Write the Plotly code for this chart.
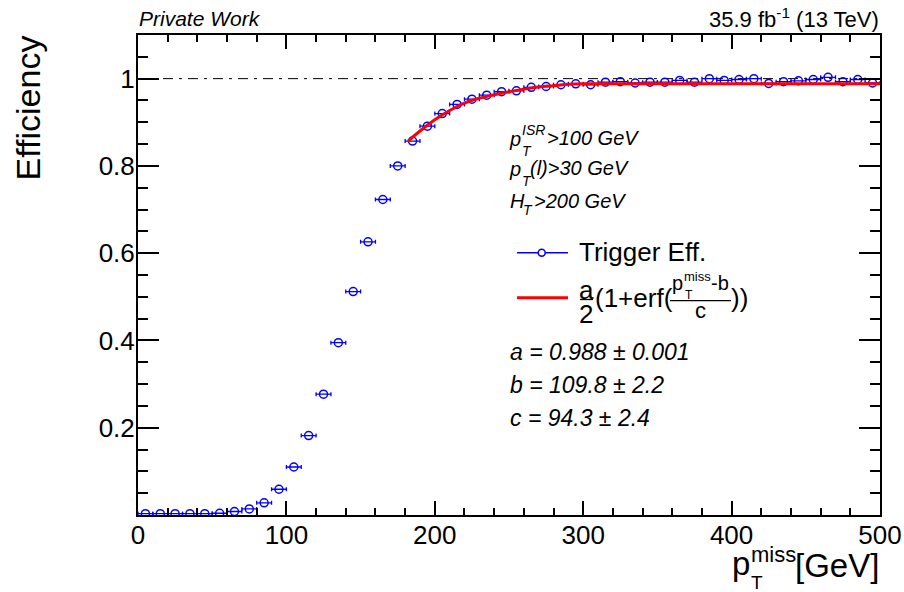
import plotly.graph_objects as go

# ---------------- data ----------------
met_bins = [5, 15, 25, 35, 45, 55, 65, 75, 85, 95,
            105, 115, 125, 135, 145, 155, 165, 175, 185, 195,
            205, 215, 225, 235, 245, 255, 265, 275, 285, 295,
            305, 315, 325, 335, 345, 355, 365, 375, 385, 395,
            405, 415, 425, 435, 445, 455, 465, 475, 485, 495]
efficiency = [0.003, 0.003, 0.003, 0.003, 0.003, 0.004, 0.008, 0.014, 0.028, 0.059,
              0.110, 0.182, 0.277, 0.395, 0.512, 0.626, 0.723, 0.800, 0.857, 0.891,
              0.920, 0.941, 0.953, 0.962, 0.970, 0.972, 0.980, 0.982, 0.986, 0.988,
              0.986, 0.992, 0.993, 0.990, 0.992, 0.992, 0.996, 0.992, 1.000, 0.996,
              0.998, 1.000, 0.989, 0.993, 0.995, 0.998, 1.003, 0.993, 0.998, 0.990]
bin_half_width = 5

fit_x = [182, 190, 200, 210, 220, 230, 240, 250, 260, 270, 280, 290, 300, 320, 350, 400, 450, 500]
fit_y = [0.857, 0.880, 0.906, 0.927, 0.944, 0.955, 0.963, 0.970, 0.976, 0.981,
         0.984, 0.987, 0.988, 0.988, 0.988, 0.988, 0.988, 0.988]

ref_x = [0, 500]
ref_y = [1.0, 1.0]

y_tickvals = [0.2, 0.4, 0.6, 0.8, 1.0]
y_ticktext = ["0.2", "0.4", "0.6", "0.8", "1"]
x_tickvals = [0, 100, 200, 300, 400, 500]

# ---------------- layout geometry (pixels) ----------------
W, H = 904, 592
L, R, T, B = 138, 880, 35, 515
FONT = "Liberation Sans"
BLUE = "rgb(0,0,255)"
RED = "rgb(255,0,0)"


def px(x):
    return (x - L) / (R - L)


def py(y):
    return (B - y) / (B - T)


fig = go.Figure()

fig.add_trace(go.Scatter(x=ref_x, y=ref_y, mode="lines",
                         line=dict(color="black", width=1, dash="10px,6px,3px,6px"),
                         hoverinfo="skip"))

fig.add_trace(go.Scatter(
    x=met_bins, y=efficiency, mode="markers",
    marker=dict(symbol="circle-open", size=8, color=BLUE, line=dict(width=1.5, color=BLUE)),
    error_x=dict(type="constant", value=bin_half_width, width=2, thickness=1.3, color=BLUE),
))

fig.add_trace(go.Scatter(x=fit_x, y=fit_y, mode="lines", line_shape="spline",
                         line=dict(color=RED, width=3)))

annotations = []
shapes = []


def txt(text, x, y, size, xanchor="left", yanchor="middle", italic=False, angle=0):
    if italic:
        text = "<i>" + text + "</i>"
    annotations.append(dict(text=text, x=px(x), y=py(y), xref="paper", yref="paper",
                            xanchor=xanchor, yanchor=yanchor, showarrow=False,
                            textangle=angle, borderpad=0,
                            font=dict(family=FONT, size=size, color="black")))


def hline(x0, x1, y, color="black", width=1.3):
    shapes.append(dict(type="line", xref="paper", yref="paper",
                       x0=px(x0), x1=px(x1), y0=py(y), y1=py(y),
                       line=dict(color=color, width=width)))


# header texts
txt("Private Work", 138, 19, 21, italic=True)
txt("35.9 fb<sup>-1</sup> (13 TeV)", 880, 18, 22, xanchor="right")

# axis titles
txt("Efficiency", 27, 35, 34, xanchor="center", yanchor="top", angle=-90)
txt("p", 731, 563, 33)
txt("miss", 750, 554, 22)
txt("T", 750, 582, 19)
txt("[GeV]", 880, 565, 33, xanchor="right")

# cut texts
txt("p", 508, 139, 20, italic=True)
txt("ISR", 521, 130, 14, italic=True)
txt("T", 521, 151, 14, italic=True)
txt(">100 GeV", 546, 137.5, 20, italic=True)

txt("p", 508, 169, 20, italic=True)
txt("T", 521, 181, 14, italic=True)
txt("(l)>30 GeV", 529, 168.5, 20, italic=True)

txt("H", 509, 201, 20, italic=True)
txt("T", 522, 210, 14, italic=True)
txt(">200 GeV", 533, 201, 20, italic=True)

# legend
hline(517, 568, 252.7, BLUE, 1.5)
shapes.append(dict(type="circle", xref="paper", yref="paper",
                   x0=px(538.2), x1=px(545.2), y0=py(249.2), y1=py(256.2),
                   line=dict(color=BLUE, width=1.5), fillcolor="white"))
txt("Trigger Eff.", 578, 252, 26)

hline(517, 568, 297.7, RED, 3)
txt("a", 586, 290, 26, xanchor="center")
hline(580, 593, 299.5, "black", 1.3)
txt("2", 586, 314, 26, xanchor="center")
txt("(1+erf(", 594, 298, 26)
txt("p", 671, 283, 20)
txt("miss", 683, 276, 13)
txt("T", 684, 295, 12)
txt("-b", 710, 283, 20)
hline(670, 731, 300.7, "black", 1.3)
txt("c", 700, 310, 22, xanchor="center")
txt("))", 730, 298, 26)

# fit parameters
txt("a = 0.988 ± 0.001", 509, 351.5, 23, italic=True)
txt("b = 109.8 ± 2.2", 509, 385, 23, italic=True)
txt("c = 94.3 ± 2.4", 509, 418, 23, italic=True)

axis_common = dict(showline=True, linecolor="black", linewidth=2, mirror="allticks",
                   ticks="inside", tickcolor="black", tickwidth=1.5,
                   showgrid=False, zeroline=False, automargin=False,
                   tickfont=dict(family=FONT, size=26, color="black"))

fig.update_layout(
    width=W, height=H, autosize=False,
    margin=dict(l=L, r=W - R, t=T, b=H - B, pad=0, autoexpand=False),
    paper_bgcolor="white", plot_bgcolor="white",
    showlegend=False,
    xaxis=dict(range=[0, 500], tickmode="array", tickvals=x_tickvals, ticklen=14,
               ticklabelstandoff=-4,
               minor=dict(dtick=20, tick0=0, ticklen=7, ticks="inside",
                          tickcolor="black", tickwidth=1.5),
               **axis_common),
    yaxis=dict(range=[0, 1.1], tickmode="array", tickvals=y_tickvals, ticktext=y_ticktext,
               ticklen=21, ticklabelstandoff=-4,
               minor=dict(dtick=0.05, tick0=0, ticklen=10, ticks="inside",
                          tickcolor="black", tickwidth=1.5),
               **axis_common),
    annotations=annotations,
    shapes=shapes,
)

fig.write_html("out.html")
